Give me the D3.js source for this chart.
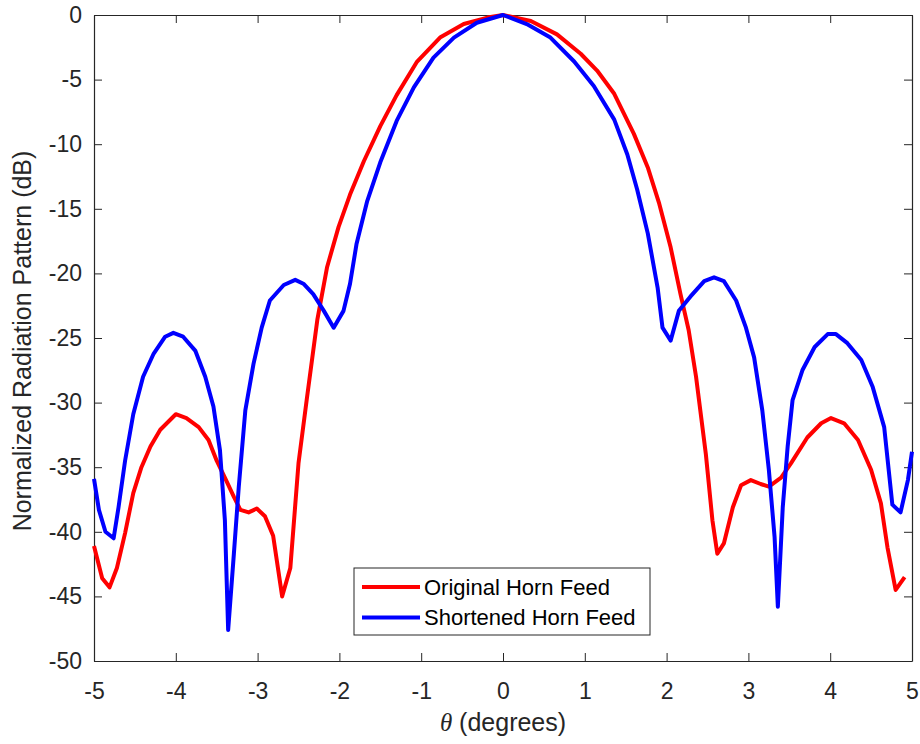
<!DOCTYPE html>
<html>
<head>
<meta charset="utf-8">
<script src="https://cdn.jsdelivr.net/npm/d3@7"></script>
<style>
  body { margin: 0; background: #fff; }
  svg { display: block; font-family: "Liberation Sans", Arial, sans-serif; }
  .axis text { fill: #262626; font-size: 23px; }
  .axis path, .axis line { stroke: #262626; }
</style>
</head>
<body>
<div id="chart"></div>
<script>
// theta (degrees) and normalized pattern (dB)
const origTheta = [-5.0, -4.9, -4.81, -4.72, -4.62, -4.52, -4.42, -4.31, -4.19, -4.0, -3.87, -3.72, -3.6, -3.5, -3.4,
  -3.29, -3.21, -3.11, -3.01, -2.91, -2.81, -2.7, -2.6, -2.5, -2.4, -2.27, -2.15, -2.01, -1.87, -1.7, -1.5, -1.3,
  -1.05, -0.77, -0.48, -0.19, 0, 0.34, 0.66, 0.95, 1.15, 1.36, 1.6, 1.77, 1.91, 2.05, 2.17, 2.27, 2.36, 2.48, 2.56,
  2.62, 2.7, 2.81, 2.91, 3.03, 3.15, 3.25, 3.4, 3.52, 3.72, 3.89, 4.01, 4.17, 4.34, 4.5, 4.62, 4.7, 4.8, 4.91];
const origDb = [-41.1, -43.6, -44.3, -42.8, -40.1, -37.0, -35.0, -33.4, -32.1, -30.9, -31.2, -31.9, -32.9, -34.5, -35.8,
  -37.3, -38.3, -38.5, -38.2, -38.8, -40.3, -45.0, -42.8, -34.7, -29.8, -23.6, -19.5, -16.4, -13.9, -11.3, -8.6, -6.2,
  -3.6, -1.75, -0.7, -0.2, 0, -0.46, -1.5, -3.0, -4.3, -6.1, -9.2, -11.8, -14.6, -18.0, -21.6, -24.4, -28.0, -34.0, -39.1,
  -41.7, -40.9, -38.1, -36.4, -36.0, -36.3, -36.5, -35.8, -34.7, -32.7, -31.6, -31.2, -31.6, -32.9, -35.2, -37.8, -41.2, -44.5, -43.5];

const shortTheta = [-5.0, -4.94, -4.86, -4.76, -4.7, -4.62, -4.52, -4.4, -4.27, -4.13, -4.03, -3.91, -3.76, -3.64, -3.54,
  -3.46, -3.4, -3.36, -3.29, -3.23, -3.15, -3.05, -2.95, -2.85, -2.68, -2.54, -2.44, -2.32, -2.19, -2.07, -1.95, -1.87,
  -1.79, -1.66, -1.5, -1.3, -1.09, -0.85, -0.6, -0.32, 0, 0.29, 0.58, 0.87, 1.11, 1.36, 1.52, 1.64, 1.77, 1.89, 1.95,
  2.05, 2.15, 2.29, 2.46, 2.58, 2.7, 2.85, 2.97, 3.07, 3.17, 3.25, 3.32, 3.36, 3.42, 3.48, 3.54, 3.66, 3.81, 3.97, 4.07,
  4.21, 4.38, 4.52, 4.66, 4.76, 4.86, 4.95, 5.0];
const shortDb = [-35.9, -38.3, -40.0, -40.5, -38.1, -34.5, -30.9, -28.0, -26.2, -24.9, -24.6, -24.9, -26.0, -28.0, -30.3,
  -33.7, -39.1, -47.6, -41.7, -36.5, -30.6, -27.0, -24.2, -22.1, -20.9, -20.5, -20.8, -21.6, -22.9, -24.2, -22.9, -20.8,
  -17.7, -14.4, -11.4, -8.2, -5.6, -3.3, -1.75, -0.6, 0, -0.7, -1.75, -3.6, -5.5, -8.1, -10.8, -13.5, -16.9, -21.1, -24.2,
  -25.2, -22.9, -21.8, -20.6, -20.3, -20.6, -22.1, -24.2, -26.5, -30.6, -35.2, -40.4, -45.8, -38.1, -33.4, -29.8, -27.5, -25.7, -24.7, -24.7,
  -25.4, -26.7, -28.8, -31.9, -37.9, -38.5, -36.0, -33.8];

const xTicks = [-5, -4, -3, -2, -1, 0, 1, 2, 3, 4, 5];
const yTicks = [0, -5, -10, -15, -20, -25, -30, -35, -40, -45, -50];
const seriesNames = ['Original Horn Feed', 'Shortened Horn Feed'];
const seriesColors = ['#ff0000', '#0000ff'];

const width = 920, height = 744;
const margin = {top: 15, right: 8, bottom: 83, left: 94};
const w = width - margin.left - margin.right;
const h = height - margin.top - margin.bottom;

const svg = d3.select('#chart').append('svg')
  .attr('width', width)
  .attr('height', height);
const g = svg.append('g')
  .attr('transform', `translate(${margin.left}, ${margin.top})`);

const x = d3.scaleLinear().domain([-5, 5]).range([0, w]);
const y = d3.scaleLinear().domain([-50, 0]).range([h, 0]);

// plain hyphen for negatives, like the original figure
const fmt = d => String(d);

// axes, MATLAB style: ticks inward, box on
g.append('g')
  .attr('class', 'axis')
  .attr('transform', `translate(0, ${h})`)
  .call(d3.axisBottom(x).tickValues(xTicks).tickSizeInner(-8).tickSizeOuter(0).tickPadding(22).tickFormat(fmt));
g.append('g')
  .attr('class', 'axis')
  .call(d3.axisLeft(y).tickValues(yTicks).tickSizeInner(-8).tickSizeOuter(0).tickPadding(12).tickFormat(fmt));
g.append('g')
  .attr('class', 'axis')
  .call(d3.axisTop(x).tickValues(xTicks).tickSizeInner(-8).tickSizeOuter(0).tickFormat(''));
g.append('g')
  .attr('class', 'axis')
  .attr('transform', `translate(${w}, 0)`)
  .call(d3.axisRight(y).tickValues(yTicks).tickSizeInner(-8).tickSizeOuter(0).tickFormat(''));
g.selectAll('.axis path').attr('stroke-width', 1.2);

const line = d3.line()
  .x(d => x(d[0]))
  .y(d => y(d[1]));

const series = [
  d3.zip(origTheta, origDb),
  d3.zip(shortTheta, shortDb)
];

series.forEach((pts, i) => {
  g.append('path')
    .datum(pts)
    .attr('fill', 'none')
    .attr('stroke', seriesColors[i])
    .attr('stroke-width', 4)
    .attr('stroke-linejoin', 'round')
    .attr('d', line);
});

// axis labels
svg.append('text')
  .attr('transform', `translate(31, 341) rotate(-90)`)
  .attr('text-anchor', 'middle')
  .attr('fill', '#262626')
  .style('font-size', '25px')
  .text('Normalized Radiation Pattern (dB)');

const xl = svg.append('text')
  .attr('x', margin.left + w / 2)
  .attr('y', 731)
  .attr('text-anchor', 'middle')
  .attr('fill', '#262626')
  .style('font-size', '25px');
xl.append('tspan').style('font-style', 'italic').style('font-family', '"Liberation Serif", serif').text('θ');
xl.append('tspan').text(' (degrees)');

// legend
const legend = svg.append('g').attr('transform', 'translate(354, 568)');
legend.append('rect')
  .attr('width', 296)
  .attr('height', 67)
  .attr('fill', '#fff')
  .attr('stroke', '#262626')
  .attr('stroke-width', 1);
seriesNames.forEach((name, i) => {
  const ly = 19 + i * 30.5;
  legend.append('line')
    .attr('x1', 8).attr('x2', 66)
    .attr('y1', ly).attr('y2', ly)
    .attr('stroke', seriesColors[i])
    .attr('stroke-width', 4);
  legend.append('text')
    .attr('x', 70)
    .attr('y', ly)
    .attr('dy', '0.35em')
    .attr('fill', '#000')
    .style('font-size', '22px')
    .text(name);
});
</script>
</body>
</html>
